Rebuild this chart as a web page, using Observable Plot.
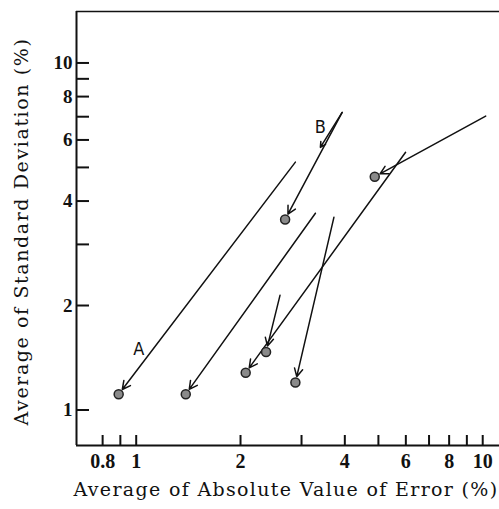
<!DOCTYPE html>
<html><head><meta charset="utf-8">
<script src="https://cdn.jsdelivr.net/npm/d3@7"></script>
<script src="https://cdn.jsdelivr.net/npm/@observablehq/plot@0.6"></script>
<style>body{margin:0;background:#fff}</style>
</head><body><div id="chart"></div>
<script>
const xTitle = "Average of Absolute Value of Error (%)";
const yTitle = "Average of Standard Deviation (%)";
const xTickValues = [0.8, 0.9, 1, 2, 3, 4, 5, 6, 7, 8, 9, 10];
const xTickLabels = [0.8, 1, 2, 4, 6, 8, 10];
const yTickValues = [1, 2, 3, 4, 5, 6, 7, 8, 9, 10];
const yTickLabels = [1, 2, 4, 6, 8, 10];
const xDomain = [0.6725, 11.18];
const yDomain = [0.79, 14.07];

// result points (arrow targets)
const pointX = [0.89, 1.39, 2.07, 2.37, 2.88, 2.69, 4.88];
const pointY = [1.11, 1.11, 1.28, 1.47, 1.20, 3.54, 4.70];
// arrow start points
const fromX = [2.88, 3.29, 5.99, 2.60, 3.72, 3.93, 10.2];
const fromY = [5.18, 3.69, 5.53, 2.14, 3.59, 7.20, 7.03];
// small mid-line arrowhead on the B arrow
const bMidX = [3.40];
const bMidY = [5.71];
// curve labels
const labelText = ["A", "B"];
const labelX = [1.017, 3.40];
const labelY = [1.50, 6.53];

const points = pointX.map((x, i) => ({x, y: pointY[i]}));
const arrows = pointX.map((x, i) => ({x1: fromX[i], y1: fromY[i], x2: x, y2: pointY[i]}));
const midArrow = bMidX.map((x, i) => ({x1: fromX[5], y1: fromY[5], x2: x, y2: bMidY[i]}));
const labels = labelText.map((t, i) => ({t, x: labelX[i], y: labelY[i]}));

const tickFont = {fontWeight: "bold", fontFamily: "'Liberation Serif', serif", fill: "#111"};
const titleFont = {fontSize: 19, fontFamily: "'DejaVu Serif', serif", fill: "#111"};

const chart = Plot.plot({
  width: 499, height: 509,
  marginLeft: 76, marginRight: 0, marginTop: 11, marginBottom: 64,
  x: {type: "log", domain: xDomain, axis: null},
  y: {type: "log", domain: yDomain, axis: null},
  style: {background: "#fff", color: "#111", fontFamily: "'Liberation Serif', serif", overflow: "visible"},
  marks: [
    Plot.ruleX([xDomain[0]], {strokeWidth: 2, stroke: "#111"}),
    Plot.ruleY([yDomain[0]], {strokeWidth: 2, stroke: "#111"}),
    Plot.ruleY([yDomain[1]], {strokeWidth: 1.5, stroke: "#111"}),
    Plot.tickX(xTickValues, {x: d => d, insetTop: 424, strokeWidth: 2, stroke: "#111"}),
    Plot.tickY(yTickValues, {y: d => d, insetRight: 410, strokeWidth: 2, stroke: "#111"}),
    Plot.text(xTickLabels, {x: d => d, text: d => String(d), frameAnchor: "bottom", dy: 16, textAnchor: "middle", lineAnchor: "middle", fontSize: 20, ...tickFont}),
    Plot.text(yTickLabels, {y: d => d, text: d => String(d), frameAnchor: "left", dx: -4, textAnchor: "end", lineAnchor: "middle", fontSize: 19, ...tickFont}),
    Plot.arrow(arrows, {x1: "x1", y1: "y1", x2: "x2", y2: "y2", insetEnd: 6, headLength: 9, headAngle: 55, strokeWidth: 1.5, stroke: "#111"}),
    Plot.arrow(midArrow, {x1: "x1", y1: "y1", x2: "x2", y2: "y2", headLength: 6, headAngle: 55, strokeWidth: 1.5, stroke: "#111"}),
    Plot.dot(points, {x: "x", y: "y", r: 4.5, fill: "#8a8a8a", stroke: "#222", strokeWidth: 1.5}),
    Plot.text(labels, {x: "x", y: "y", text: "t", fontSize: 18, fontFamily: "'DejaVu Sans Condensed', 'DejaVu Sans', sans-serif", fill: "#111"}),
    Plot.text([xTitle], {frameAnchor: "bottom", dy: 44, dx: -2, textAnchor: "middle", lineAnchor: "middle", ...titleFont}),
    Plot.text([yTitle], {frameAnchor: "left", rotate: -90, dx: -55, dy: 3, textAnchor: "middle", lineAnchor: "middle", ...titleFont})
  ]
});
document.getElementById("chart").appendChild(chart);
// spread titles to the lengths they have in the reference
chart.querySelectorAll("text").forEach(t => {
  const target = t.textContent === xTitle ? 425 : t.textContent === yTitle ? 388 : null;
  if (target == null) return;
  const natural = t.getComputedTextLength();
  const n = t.textContent.length;
  t.style.letterSpacing = ((target - natural) / n) + "px";
});
</script>
</body></html>
